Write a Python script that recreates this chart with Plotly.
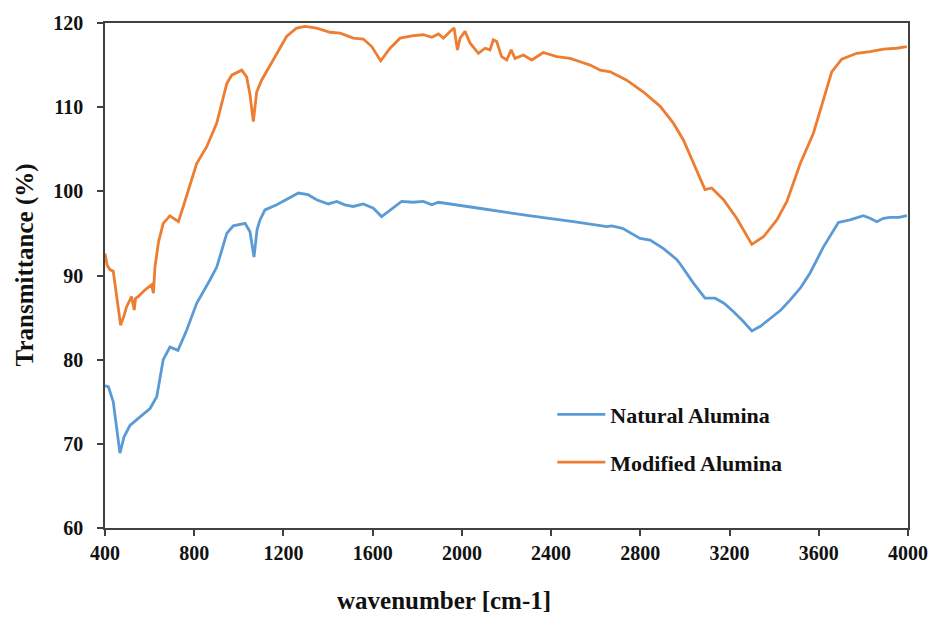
import plotly.graph_objects as go

# Natural Alumina (blue)
nat_x = [400, 415, 437, 455, 467, 485, 512, 557, 602, 632, 661, 691, 727, 766, 811, 871, 901, 946, 975,
         1028, 1050, 1068, 1082, 1095, 1117, 1170, 1214, 1267, 1310, 1349, 1401, 1439, 1475, 1513, 1558,
         1603, 1640, 1678, 1730, 1780, 1827, 1865, 1895, 2100, 2300, 2500, 2650, 2672, 2720, 2799,
         2844, 2904, 2963, 2978, 3038, 3090, 3135, 3175, 3218, 3260, 3300, 3340, 3382, 3430, 3472, 3520,
         3561, 3621, 3688, 3740, 3800, 3830, 3860, 3890, 3920, 3960, 3995]
nat_y = [76.9, 76.8, 75.0, 71.0, 68.9, 70.8, 72.2, 73.2, 74.2, 75.6, 80.0, 81.5, 81.1, 83.5, 86.7, 89.5, 91.0,
         95.0, 95.9, 96.2, 95.2, 92.2, 95.5, 96.6, 97.8, 98.4, 99.0, 99.8, 99.6, 99.0, 98.5, 98.8, 98.4,
         98.2, 98.5, 98.0, 97.0, 97.8, 98.8, 98.7, 98.8, 98.4, 98.7, 97.9, 97.1, 96.4, 95.8, 95.9, 95.6,
         94.4, 94.2, 93.2, 91.9, 91.4, 89.1, 87.3, 87.3, 86.7, 85.7, 84.6, 83.4, 84.0, 84.9, 85.9, 87.1,
         88.6, 90.3, 93.4, 96.3, 96.6, 97.1, 96.8, 96.4, 96.8, 96.9, 96.9, 97.1]

# Modified Alumina (orange)
mod_x = [400, 410, 422, 437, 455, 470, 485, 497, 519, 531, 537, 549, 580, 609, 617, 624, 640, 661, 691, 729,
         751, 766, 811, 856, 901, 946, 968, 1013, 1035, 1050, 1065, 1080, 1102, 1154, 1214, 1259, 1297,
         1349, 1409, 1454, 1513, 1558, 1596, 1636, 1663, 1678, 1723, 1783, 1827, 1865, 1895, 1917, 1947,
         1965, 1980, 1992, 2014, 2037, 2074, 2104, 2126, 2141, 2156, 2178, 2201, 2221, 2238, 2276, 2313,
         2365, 2425, 2485, 2530, 2575, 2620, 2665, 2739, 2814, 2889, 2948, 2993, 3053, 3090, 3120, 3173,
         3232, 3300, 3352, 3412, 3457, 3517, 3576, 3621, 3658, 3703, 3770, 3830, 3890, 3949, 3995]
mod_y = [92.6, 91.2, 90.7, 90.5, 87.0, 84.1, 85.2, 86.3, 87.5, 85.9, 87.3, 87.5, 88.3, 88.9, 87.9, 91.0,
         94.0, 96.2, 97.1, 96.4, 98.2, 99.5, 103.3, 105.3, 108.1, 112.8, 113.8, 114.4, 113.6, 111.5, 108.3,
         111.8, 113.2, 115.6, 118.4, 119.4, 119.6, 119.4, 118.9, 118.8, 118.2, 118.1, 117.2, 115.5, 116.4,
         117.0, 118.2, 118.5, 118.6, 118.3, 118.7, 118.2, 119.0, 119.4, 116.8, 118.2, 119.0, 117.6, 116.4,
         117.0, 116.8, 118.0, 117.8, 116.0, 115.6, 116.8, 115.8, 116.2, 115.6, 116.5, 116.0, 115.8, 115.4,
         115.0, 114.4, 114.2, 113.2, 111.8, 110.1, 108.1, 106.1, 102.5, 100.2, 100.4, 99.0, 96.8, 93.7,
         94.6, 96.6, 98.8, 103.3, 106.9, 110.8, 114.2, 115.7, 116.4, 116.6, 116.9, 117.0, 117.2]

x_ticks = [400, 800, 1200, 1600, 2000, 2400, 2800, 3200, 3600, 4000]
y_ticks = [60, 70, 80, 90, 100, 110, 120]

x_title = "wavenumber [cm-1]"
y_title = "Transmittance (%)"

FONT = "Liberation Serif"
TXT = "#111"
AX = "#404040"

fig = go.Figure()
fig.add_trace(go.Scatter(x=nat_x, y=nat_y, mode="lines", name="Natural Alumina",
                         legendgroup="a", line=dict(color="#5B9BD5", width=2.8)))
fig.add_trace(go.Scatter(x=mod_x, y=mod_y, mode="lines", name="Modified Alumina",
                         legendgroup="b", line=dict(color="#ED7D31", width=2.8)))

axis_common = dict(showgrid=False, zeroline=False, automargin=False,
                   showline=True, linecolor=AX, linewidth=1.5, mirror=True,
                   ticks="outside", ticklen=6, tickwidth=1.5, tickcolor=AX,
                   tickfont=dict(family=FONT, size=20, color=TXT, weight="bold"))

fig.update_layout(
    width=931, height=617,
    margin=dict(l=105, r=23, t=23, b=89, autoexpand=False),
    paper_bgcolor="white", plot_bgcolor="white",
    xaxis=dict(range=[400, 4000], tickvals=x_ticks, **axis_common),
    yaxis=dict(range=[60, 120], tickvals=y_ticks, ticklabelstandoff=10, **axis_common),
    legend=dict(x=0.557, y=0.266, xanchor="left", yanchor="top", itemwidth=48,
                traceorder="grouped", tracegroupgap=16, bgcolor="rgba(0,0,0,0)",
                font=dict(family=FONT, size=22, color=TXT, weight="bold")),
    annotations=[
        dict(text=x_title, xref="paper", yref="paper", x=0.422, y=0, yshift=-72,
             xanchor="center", yanchor="middle", showarrow=False,
             font=dict(family=FONT, size=25, color=TXT, weight="bold")),
        dict(text=y_title, xref="paper", yref="paper", x=0, y=0.52, xshift=-80,
             xanchor="center", yanchor="middle", showarrow=False, textangle=-90,
             font=dict(family=FONT, size=25, color=TXT, weight="bold")),
    ],
)

fig.write_html("out.html")
